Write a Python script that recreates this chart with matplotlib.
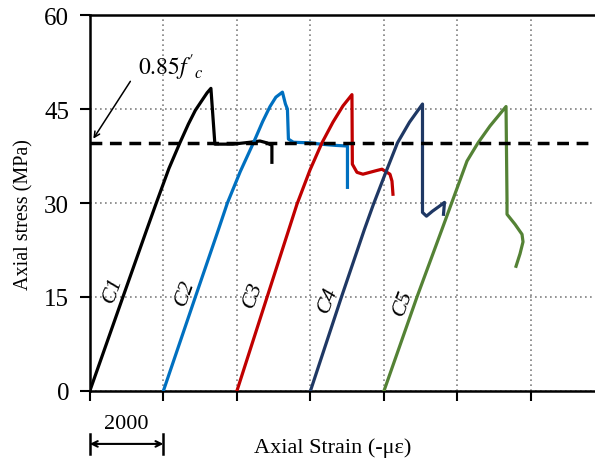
import numpy as np
import matplotlib.pyplot as plt

plt.rcParams['font.family'] = ['Liberation Serif', 'DejaVu Serif']
plt.rcParams['mathtext.fontset'] = 'stix'

# strain measured from each curve's own origin (micro-strain), stress in MPa
offsets = [0, 2000, 4000, 6000, 8000]
names = ['C1', 'C2', 'C3', 'C4', 'C5']
colors = ['#000000', '#0070C0', '#C00000', '#1F3864', '#548235']

c1_strain = [0, 900, 1551, 1807, 2150, 2449, 2680, 2870, 3075, 3190, 3293,
             3401, 3891, 4354, 4626, 4816, 4952, 4952]
c1_stress = [0, 15.0, 25.8, 30.0, 35.5, 39.6, 42.6, 44.8, 46.6, 47.6, 48.3,
             39.4, 39.4, 39.7, 39.9, 39.6, 39.2, 36.5]

c2_strain = [0, 870, 1500, 1741, 2090, 2449, 2700, 2900, 3060, 3238,
             3320, 3374, 3401, 3537, 4000, 4272, 4680, 5007, 5007]
c2_stress = [0, 15.0, 25.8, 30.0, 35.0, 39.6, 43.0, 45.4, 46.9, 47.7,
             45.8, 45.0, 40.2, 39.7, 39.6, 39.4, 39.2, 39.1, 32.5]

c3_strain = [0, 822, 1414, 1633, 1990, 2313, 2612, 2884, 3129,
             3140, 3265, 3428, 3619, 3810, 3945, 4027, 4163, 4218, 4245]
c3_stress = [0, 15.0, 25.8, 29.8, 35.3, 39.6, 42.9, 45.5, 47.3,
             36.2, 34.9, 34.6, 34.9, 35.2, 35.4, 35.1, 34.6, 33.5, 31.4]

c4_strain = [0, 844, 1469, 1714, 2050, 2367, 2694, 3048,
             3048, 3156, 3320, 3510, 3646, 3619]
c4_stress = [0, 15.0, 25.8, 29.8, 34.9, 39.6, 42.9, 45.8,
             28.5, 27.9, 28.7, 29.5, 30.1, 28.2]

c5_strain = [0, 898, 1578, 1878, 2259, 2558, 2885, 3320,
             3347, 3347, 3565, 3755, 3782, 3701, 3592]
c5_stress = [0, 15.0, 25.8, 30.6, 36.7, 39.6, 42.3, 45.4,
             30.3, 28.2, 26.6, 25.0, 23.8, 21.9, 19.9]

strains = [c1_strain, c2_strain, c3_strain, c4_strain, c5_strain]
stresses = [c1_stress, c2_stress, c3_stress, c4_stress, c5_stress]

fc_085 = 39.6
label_pos = [(626, 16.3), (2585, 15.8), (4435, 15.5), (6476, 14.7), (8517, 14.2)]

fig = plt.figure(figsize=(5.95, 4.6), dpi=100)
ax = fig.add_axes([0.151, 0.148, 0.849, 0.817])

for s, p, off, c in zip(strains, stresses, offsets, colors):
    ax.plot(np.array(s) + off, p, color=c, lw=2.3, solid_joinstyle='round', zorder=3)

for (lx, ly), n in zip(label_pos, names):
    ax.text(lx, ly, n, rotation=70, ha='center', va='center', fontsize=16, style='italic')

ax.axhline(fc_085, color='black', lw=2.5, linestyle=(0, (3.4, 2.2)), zorder=4)

ax.annotate('', xy=(54, 39.9), xytext=(1143, 49.8),
            arrowprops=dict(arrowstyle='->', color='black', lw=1.1))
ax.text(1306, 51.8, r'$0.85f^{\prime}{}_{c}$', fontsize=17, ha='left', va='center')

ax.set_xlim(0, 13740)
ax.set_ylim(0, 60)
ax.set_xticks(np.arange(0, 12001, 2000))
ax.set_xticklabels([])
ax.set_yticks([0, 15, 30, 45, 60])
ax.tick_params(axis='both', direction='out', length=7, width=1.5)
ax.tick_params(axis='y', labelsize=18, pad=8)
ax.grid(True, color='gray', linestyle=(0, (1, 2)), lw=1.2)

for sp in ['left', 'bottom', 'top']:
    ax.spines[sp].set_linewidth(1.8)
ax.spines['right'].set_visible(False)

ax.set_ylabel('Axial stress (MPa)', fontsize=14.5)
ax.yaxis.set_label_coords(-0.112, 0.473)
ax.text(0.48, -0.149, u'Axial Strain (-\u03bc\u03b5)', transform=ax.transAxes,
        ha='center', va='center', fontsize=16)

# 2000 scale bar under the axis
trans = ax.get_xaxis_transform()
ax.annotate('', xy=(0, -0.141), xytext=(2000, -0.141), xycoords=trans, textcoords=trans,
            arrowprops=dict(arrowstyle='<->', color='black', lw=1.5, shrinkA=0, shrinkB=0))
for xb in [0, 2000]:
    ax.plot([xb, xb], [-0.115, -0.167], color='black', lw=1.8, transform=trans, clip_on=False)
ax.text(1000, -0.088, '2000', transform=trans, ha='center', va='center', fontsize=16)

fig.savefig('out.png', dpi=100)
